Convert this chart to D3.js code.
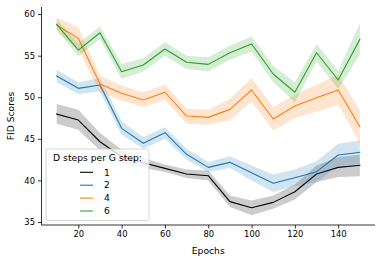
<!DOCTYPE html>
<html><head><meta charset="utf-8">
<script src="https://cdn.jsdelivr.net/npm/d3@7"></script>
<style>
html,body{margin:0;padding:0;background:#fff;}
svg{display:block;font-family:"DejaVu Sans",sans-serif;}
</style></head>
<body><svg id="c" width="382" height="263"></svg>
<script>
const epochs = [10,20,30,40,50,60,70,80,90,100,110,120,130,140,150];
const seriesNames = ["1","2","4","6"];
const colors = ["#000000","#1f77b4","#ff7f0e","#2ca02c"];

const mean1 = [47.98,47.26,44.65,42.85,42.13,41.45,40.77,40.57,37.45,36.72,37.36,38.64,40.77,41.57,41.81];
const low1  = [46.8,46.1,43.6,42.0,41.5,41.0,40.3,40.0,36.8,35.8,36.6,37.7,39.8,40.4,40.5];
const high1 = [49.2,48.5,45.7,43.7,42.7,41.9,41.3,41.2,38.2,37.6,38.2,39.5,41.8,42.8,43.1];

const mean2 = [52.55,51.07,51.47,46.26,44.46,45.74,43.14,41.57,42.17,40.93,39.65,40.33,41.05,43.05,43.37];
const low2  = [51.8,50.4,50.7,45.5,43.8,45.0,42.5,41.0,41.5,40.0,38.6,39.3,39.8,41.7,42.0];
const high2 = [53.3,51.8,52.3,47.1,45.2,46.4,43.8,42.2,42.9,41.8,40.7,41.3,42.3,44.4,44.8];

const mean4 = [58.68,57.08,51.6,50.47,49.66,50.6,47.74,47.58,48.54,50.87,47.38,48.94,49.94,50.87,46.45];
const low4  = [57.8,55.8,50.6,49.6,48.8,49.7,46.8,46.7,47.2,49.5,46.0,47.5,48.3,49.1,44.5];
const high4 = [59.6,58.4,52.6,51.4,50.6,51.5,48.6,48.5,49.8,52.3,48.8,50.3,51.5,52.7,48.4];

const mean6 = [58.76,55.67,57.75,53.07,53.87,55.8,54.2,53.95,55.35,56.4,52.8,50.6,55.35,52.07,56.96];
const low6  = [58.2,54.9,57.0,52.2,53.1,55.0,53.4,53.1,54.5,55.5,51.8,49.4,54.3,51.0,55.1];
const high6 = [59.4,56.5,58.5,54.0,54.7,56.6,55.0,54.8,56.2,57.3,53.8,51.8,56.4,53.2,58.9];

const xTicks = [20,40,60,80,100,120,140];
const yTicks = [35,40,45,50,55,60];
const xLabel = "Epochs", yLabel = "FID Scores", legendTitle = "D steps per G step:";

const series = [
  {name:seriesNames[0], mean:mean1, low:low1, high:high1, color:colors[0]},
  {name:seriesNames[1], mean:mean2, low:low2, high:high2, color:colors[1]},
  {name:seriesNames[2], mean:mean4, low:low4, high:high4, color:colors[2]},
  {name:seriesNames[3], mean:mean6, low:low6, high:high6, color:colors[3]},
];

const m = {left:41.5, right:375, top:7, bottom:225};
const x = d3.scaleLinear().domain([3,157]).range([m.left, m.right]);
const y = d3.scaleLinear().domain([34.64,60.85]).range([m.bottom, m.top]);
const svg = d3.select("#c");

const g = svg.append("g");
series.forEach(s => {
  const area = d3.area().x((d,i)=>x(epochs[i])).y0((d,i)=>y(s.low[i])).y1((d,i)=>y(s.high[i]));
  g.append("path").datum(s.mean).attr("d", area).attr("fill", s.color).attr("fill-opacity",0.2).attr("stroke","none");
  const line = d3.line().x((d,i)=>x(epochs[i])).y(d=>y(d));
  g.append("path").datum(s.mean).attr("d", line).attr("fill","none").attr("stroke", s.color).attr("stroke-width",1.1).attr("stroke-linejoin","round").attr("stroke-linecap","square");
});

const xa = svg.append("g").attr("transform",`translate(0,${m.bottom})`)
  .call(d3.axisBottom(x).tickValues(xTicks).tickSize(3.5).tickPadding(3));
const ya = svg.append("g").attr("transform",`translate(${m.left},0)`)
  .call(d3.axisLeft(y).tickValues(yTicks).tickSize(3.5).tickPadding(3));
[xa,ya].forEach(a=>{
  a.selectAll("text").attr("font-size",8.4).attr("font-family","DejaVu Sans").attr("fill","#000");
  a.selectAll("line").attr("stroke","#000").attr("stroke-width",0.8);
  a.select(".domain").attr("stroke","#000").attr("stroke-width",0.8);
});
xa.select(".domain").attr("d",`M${m.left},0H${m.right}`);
ya.select(".domain").attr("d",`M0,${m.bottom}V${m.top}`);

svg.append("text").attr("x",(m.left+m.right)/2).attr("y",254).attr("text-anchor","middle")
  .attr("font-size",9.2).text(xLabel);
svg.append("text").attr("transform",`translate(14,${(m.top+m.bottom)/2}) rotate(-90)`).attr("text-anchor","middle")
  .attr("font-size",9.2).text(yLabel);

// legend
const lg = svg.append("g");
lg.append("rect").attr("x",46).attr("y",149).attr("width",103).attr("height",71.5).attr("rx",2)
  .attr("fill","#fff").attr("fill-opacity",0.8).attr("stroke","#ccc").attr("stroke-width",0.8);
lg.append("text").attr("x",97.5).attr("y",160.5).attr("text-anchor","middle").attr("font-size",9.2).text(legendTitle);
series.forEach((s,i)=>{
  const yy = 172.3 + i*12.9;
  lg.append("line").attr("x1",80).attr("x2",93).attr("y1",yy).attr("y2",yy).attr("stroke",s.color).attr("stroke-width",1.1);
  lg.append("text").attr("x",104).attr("y",yy+3.2).attr("font-size",9.2).text(s.name);
});
</script></body></html>
